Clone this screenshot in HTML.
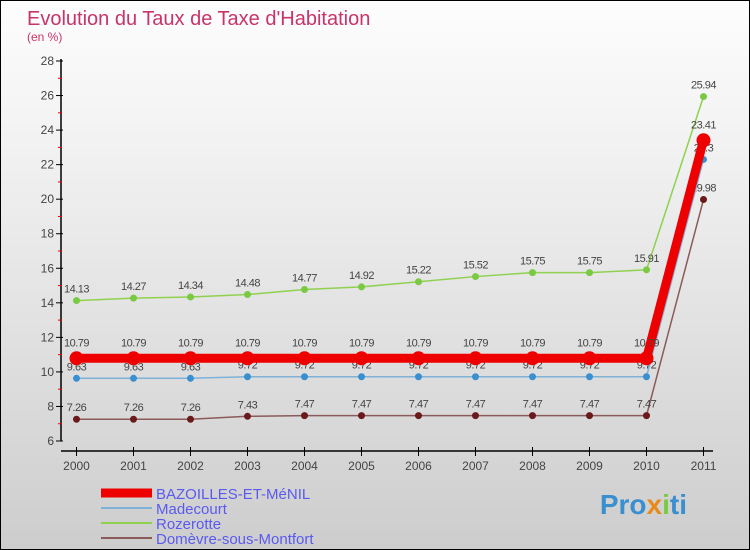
<!DOCTYPE html>
<html><head><meta charset="utf-8"><style>
body{margin:0}
#c{width:748px;height:548px;border:1px solid #000;background:linear-gradient(#fdfdfd,#f0f0f0 30%,#cdcdcd);position:relative;overflow:hidden;font-family:"Liberation Sans",sans-serif}
svg text{font-family:"Liberation Sans",sans-serif}
</style></head><body>
<div id="c">
<svg id="s" width="748" height="548">
<text x="26" y="24" font-size="20" fill="#c8346a">Evolution du Taux de Taxe d'Habitation</text>
<text x="26" y="40" font-size="12" fill="#c8346a">(en %)</text>
<g id="g"></g>
</svg>
<div style="position:absolute;right:62px;top:488px;font-size:28px;font-weight:bold;color:#3a8fd0">Pro<span style="color:#e88a1a">x</span><span style="color:#7ac943">i</span>ti</div>
</div>
<script>
const years=[2000,2001,2002,2003,2004,2005,2006,2007,2008,2009,2010,2011];
const yTicks=[6,8,10,12,14,16,18,20,22,24,26,28];
const bazoilles=[10.79,10.79,10.79,10.79,10.79,10.79,10.79,10.79,10.79,10.79,10.79,23.41];
const madecourt=[9.63,9.63,9.63,9.72,9.72,9.72,9.72,9.72,9.72,9.72,9.72,22.3];
const rozerotte=[14.13,14.27,14.34,14.48,14.77,14.92,15.22,15.52,15.75,15.75,15.91,25.94];
const domevre=[7.26,7.26,7.26,7.43,7.47,7.47,7.47,7.47,7.47,7.47,7.47,19.98];
const names=["BAZOILLES-ET-MéNIL","Madecourt","Rozerotte","Domèvre-sous-Montfort"];
const NS="http://www.w3.org/2000/svg",g=document.getElementById('g');
const X=i=>75.5+i*57, Y=v=>440-(v-6)*(380/22);
function el(t,a,p){const e=document.createElementNS(NS,t);for(const k in a)e.setAttribute(k,a[k]);(p||g).appendChild(e);return e;}
let ax=el('line',{x1:60,y1:58,x2:60,y2:440,stroke:'#000','stroke-width':1.5});


let xa=el('line',{x1:60,y1:450,x2:712,y2:450,stroke:'#000','stroke-width':1.5});


yTicks.forEach(v=>{el('line',{x1:55,y1:Y(v),x2:62,y2:Y(v),stroke:'#000'});
 if(v<28)el('line',{x1:57,y1:Y(v+1),x2:61,y2:Y(v+1),stroke:'#e00'});
 const t=el('text',{x:53,y:Y(v)+4,'text-anchor':'end','font-size':12,fill:'#444'});t.textContent=v;
 
 });
years.forEach((y,i)=>{el('line',{x1:X(i),y1:446,x2:X(i),y2:455,stroke:'#000'});
 const t=el('text',{x:X(i),y:469,'text-anchor':'middle','font-size':12,fill:'#444'});t.textContent=y;
 
 });
const series=[[rozerotte,'#8fd14f','#7ac943',1.5,3.5,'rozerotte'],[domevre,'#8b5a5a','#6a1a1a',1.5,3.5,'domevre'],[madecourt,'#7fb0d6','#3a8fd0',1.5,3.5,'madecourt'],[bazoilles,'#ee0000','#ee0000',9,7,'bazoilles']];
series.forEach(([d,lc,pc,w,r,n])=>{
 const p=el('polyline',{points:d.map((v,i)=>X(i)+','+Y(v)).join(' '),fill:'none',stroke:lc,'stroke-width':w});
 
 
 d.forEach((v,i)=>{const c=el('circle',{cx:X(i),cy:Y(v),r:r,fill:pc});
  
  
  const t=el('text',{x:X(i),y:Y(v)-(n=='bazoilles'?12:8),'text-anchor':'middle','font-size':11,fill:'#444','letter-spacing':'-0.5'});t.textContent=v;
  
  });
});
const lc=[['#ee0000',9],['#7fb0d6',2],['#8fd14f',2],['#8b5a5a',2]];
names.forEach((n,i)=>{const y=492+i*15;
 const l=el('line',{x1:100,y1:y,x2:151,y2:y,stroke:lc[i][0],'stroke-width':lc[i][1]});
 
 
 const t=el('text',{x:155,y:y+6,'font-size':15,fill:'#5a5af0'});t.textContent=n;
 
 });
</script>
</body></html>
